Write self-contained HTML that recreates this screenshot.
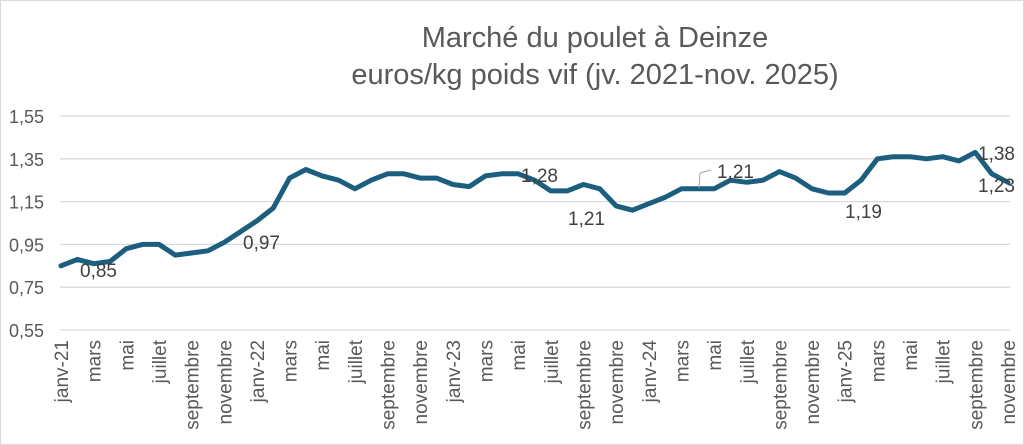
<!DOCTYPE html>
<html><head><meta charset="utf-8"><style>
html,body{margin:0;padding:0;background:#fff;}
svg{display:block;font-family:"Liberation Sans",sans-serif;}
</style></head><body>
<svg id="c" width="1024" height="445" viewBox="0 0 1024 445" xmlns="http://www.w3.org/2000/svg">
<rect x="0.5" y="0.5" width="1023" height="444" fill="#fff" stroke="#d9d9d9"/>
<text x="595" y="47" text-anchor="middle" font-size="29" fill="#595959">Marché du poulet à Deinze</text>
<text x="595" y="84" text-anchor="middle" font-size="29" fill="#595959">euros/kg poids vif (jv. 2021-nov. 2025)</text>
<g id="grid"></g>
<g id="ylab" font-size="18" fill="#595959" text-anchor="end"></g>
<g id="xlab" font-size="19" fill="#595959"></g>
<polyline id="line" fill="none" stroke="#1b5e7e" stroke-width="5" stroke-linejoin="round" stroke-linecap="round"/>
<g font-size="19" fill="#404040">
<text x="80" y="277">0,85</text>
<text x="243" y="249">0,97</text>
<text x="521" y="182">1,28</text>
<text x="568" y="225">1,21</text>
<path d="M700 173 L711 170" stroke="#a6a6a6" fill="none"/>
<path d="M700 173 L699 188" stroke="#a6a6a6" fill="none"/>
<text x="717" y="178">1,21</text>
<text x="845" y="218">1,19</text>
<text x="978" y="160">1,38</text>
<text x="978" y="192">1,23</text>
</g>
</svg>
<script>
var ns="http://www.w3.org/2000/svg";
function y(v){return 330-(v-0.55)*214;}
var g=document.getElementById('grid'),yl=document.getElementById('ylab'),xl=document.getElementById('xlab');
[0.55,0.75,0.95,1.15,1.35,1.55].forEach(function(v){
 var l=document.createElementNS(ns,'line');l.setAttribute('x1',60);l.setAttribute('x2',1010);
 l.setAttribute('y1',y(v));l.setAttribute('y2',y(v));l.setAttribute('stroke','#d9d9d9');l.setAttribute('stroke-width','1.3');g.appendChild(l);
 var t=document.createElementNS(ns,'text');t.setAttribute('x',44);t.setAttribute('y',y(v)+7);t.textContent=v.toFixed(2).replace('.',',');yl.appendChild(t);
});
var d=[.85,.88,.86,.87,.93,.95,.95,.90,.91,.92,.96,1.01,
1.06,1.12,1.26,1.30,1.27,1.25,1.21,1.25,1.28,1.28,1.26,1.26,
1.23,1.22,1.27,1.28,1.28,1.25,1.20,1.20,1.23,1.21,1.13,1.11,
1.14,1.17,1.21,1.21,1.21,1.25,1.24,1.25,1.29,1.26,1.21,1.19,
1.19,1.25,1.35,1.36,1.36,1.35,1.36,1.34,1.38,1.28,1.24];
var step=(1008-61)/58,pts=[];
d.forEach(function(v,i){pts.push((61+i*step).toFixed(1)+','+y(v).toFixed(1));});
document.getElementById('line').setAttribute('points',pts.join(' '));
var names={2:'mars',4:'mai',6:'juillet',8:'septembre',10:'novembre'};
for(var i=0;i<59;i+=2){
 var m=i%12,yr=21+Math.floor(i/12);
 var s=m==0?'janv-'+yr:names[m];
 var x=61+i*step+7;
 var t=document.createElementNS(ns,'text');
 t.setAttribute('transform','translate('+x.toFixed(1)+',340) rotate(-90)');
 t.setAttribute('text-anchor','end');t.textContent=s;xl.appendChild(t);
}
</script>
</body></html>
